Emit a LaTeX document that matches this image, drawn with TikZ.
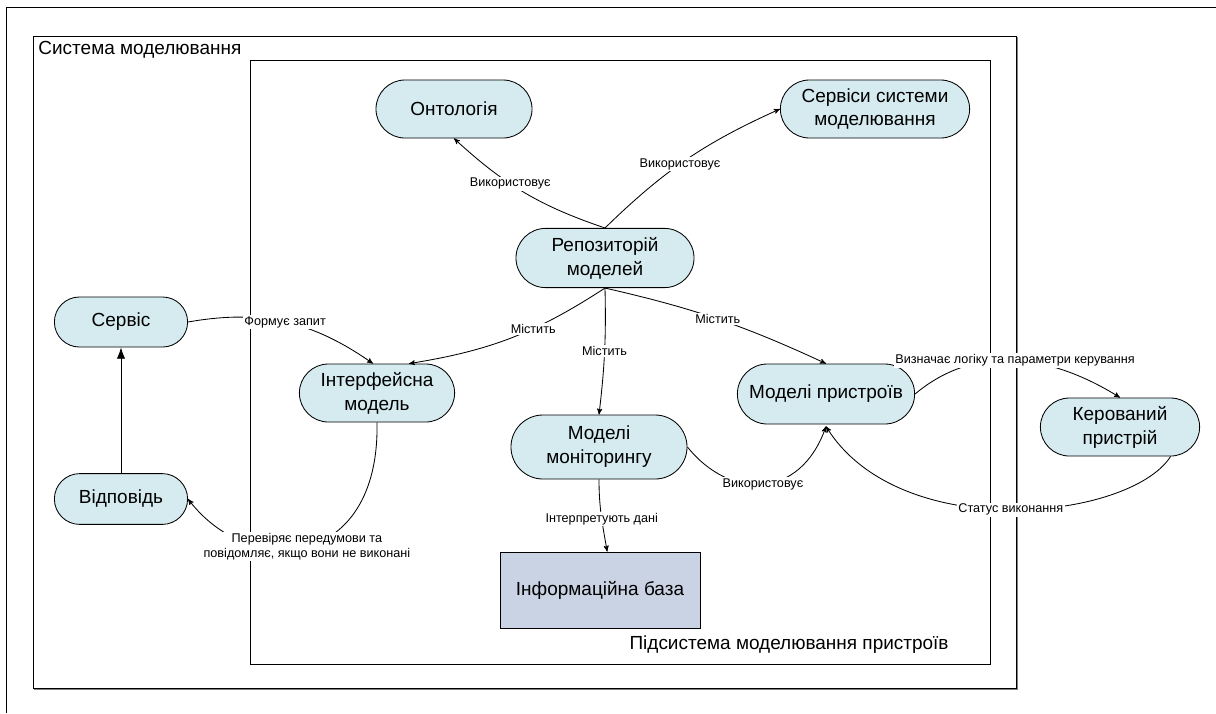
\documentclass[tikz,border=0pt]{standalone}
\usepackage{fontspec}
\setmainfont{Liberation Sans}
\usepackage{tikz}
\usetikzlibrary{shapes,arrows,arrows.meta,positioning,calc}
\definecolor{nodeblue}{HTML}{D5EBF0}
\definecolor{basegray}{HTML}{C9D3E3}
\tikzset{
  mdlnode/.style = {align=center, inner sep=0pt, text centered, font=\fontsize{13.5}{17}\selectfont},
  mdl_r/.style = {mdlnode, rounded rectangle, draw=black, fill=nodeblue, line width=0.6pt, minimum height=1.45cm},
  mdl_b/.style = {mdlnode, rectangle, draw=black, fill=basegray, line width=0.6pt},
  mdl_l/.style = {align=center, inner sep=1pt, fill=white, font=\fontsize{9}{10.5}\selectfont},
  mdl_t/.style = {inner sep=0pt, font=\fontsize{13.5}{17}\selectfont}
}

\begin{document}
\begin{tikzpicture}[x=0.025cm,y=-0.025cm,->,>=stealth',line width=0.6pt]
  \useasboundingbox (0,0) rectangle (1216,713);
  % frames
  \draw[-,line width=0.7pt] (6,713) -- (6,7) -- (1216,7);
  \draw[-,line width=1.4pt,gray] (34,689) -- (1017,689) -- (1017,37);
  \draw[-,line width=0.7pt] (33,36) rectangle (1016,688);
  \draw[-,line width=0.7pt] (250,60) rectangle (990,664);
  \node[mdl_t, anchor=west] (sys) at (38,50) {Система моделювання};
  \node[mdl_t, anchor=east] (subsys) at (949,645) {Підсистема моделювання пристроїв};
  % nodes
  \node[mdl_r, minimum width=3.9cm] (onto) at (454,109) {Онтологія};
  \node[mdl_r, minimum width=4.73cm] (srvsys) at (875,109) {Сервіси системи\\моделювання};
  \node[mdl_r, minimum width=4.45cm, minimum height=1.48cm] (repo) at (605,258) {Репозиторій\\моделей};
  \node[mdl_r, minimum width=3.33cm, minimum height=1.25cm] (serv) at (121,322) {Сервіс};
  \node[mdl_r, minimum width=3.33cm, minimum height=1.27cm] (vidp) at (121,499) {Відповідь};
  \node[mdl_r, minimum width=3.88cm] (intf) at (377,393) {Інтерфейсна\\модель};
  \node[mdl_r, minimum width=4.4cm, minimum height=1.6cm] (monit) at (599,447) {Моделі\\моніторингу};
  \node[mdl_r, minimum width=4.43cm, minimum height=1.5cm] (devm) at (826,394) {Моделі пристроїв};
  \node[mdl_r, minimum width=3.98cm] (kerov) at (1120,427) {Керований\\пристрій};
  \node[mdl_b, minimum width=5cm, minimum height=1.9cm] (infb) at (600,590) {Інформаційна база};
  % connectors
  \draw (repo.north) to[bend left=12] node[mdl_l, pos=0.6] {Використовує} (onto.south);
  \draw (repo.north) to[bend left=10] node[mdl_l, pos=0.46] {Використовує} (srvsys.west);
  \draw (repo.south) to[bend left=12] node[mdl_l, pos=0.38] {Містить} ([xshift=0.8cm]intf.north);
  \draw (repo.south) to[bend left=4] node[mdl_l] {Містить} (monit.north);
  \draw (repo.south) to[bend left=6] node[mdl_l] {Містить} (devm.north);
  \draw (serv.east) to[out=10,in=145] node[mdl_l, pos=0.5] {Формує запит} ([xshift=-0.1cm]intf.north);
  \draw (devm.east) to[out=40,in=148] node[mdl_l] {Визначає логіку та параметри керування} (kerov.north);
  \draw (kerov.south east) .. controls (1130,520) and (900,545) .. node[mdl_l] {Статус виконання} ([yshift=-0.05cm]devm.south);
  \draw (monit.east) .. controls (730,500) and (800,500) .. node[mdl_l] {Використовує} ([yshift=-0.05cm]devm.south);
  \draw (monit.south) to[out=-90,in=100] node[mdl_l, pos=0.55] {Інтерпретують дані} ([xshift=0.18cm]infb.north);
  \draw (intf.south) .. controls (380,570) and (250,580) .. node[mdl_l] {Перевіряє передумови та\\повідомляє, якщо вони не виконані} (vidp.east);
  \draw[-{Latex[length=8pt,width=6pt]}] (vidp.north) -- (serv.south);
\end{tikzpicture}
\end{document}
